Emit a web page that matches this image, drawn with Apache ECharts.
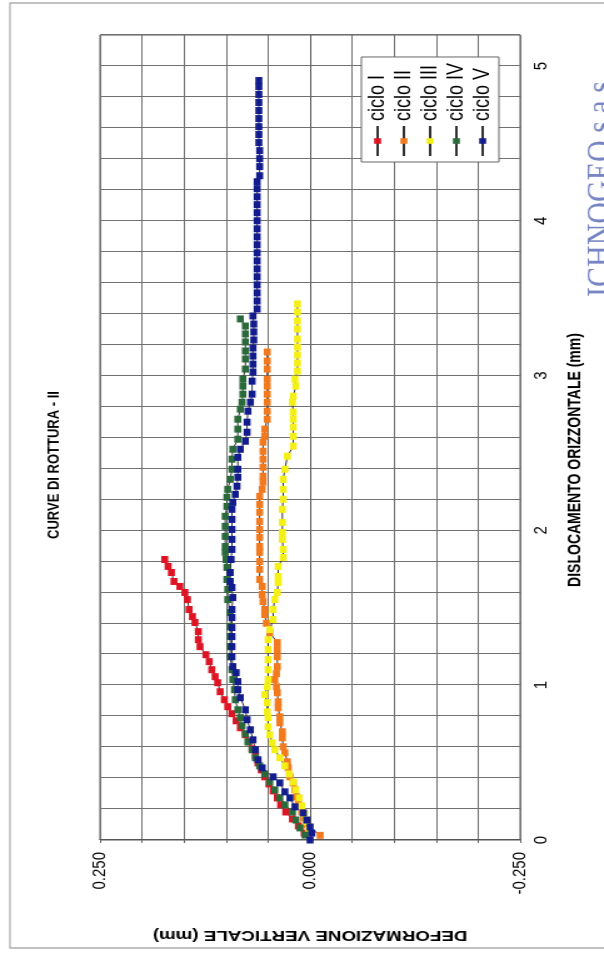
<!DOCTYPE html>
<html><head><meta charset="utf-8">
<script src="https://cdn.jsdelivr.net/npm/echarts@6/dist/echarts.min.js"></script>
<style>
html,body{margin:0;padding:0;background:#fff;overflow:hidden;width:604px;height:957px;}
#chart{position:absolute;left:0;top:0;width:957px;height:483px;transform-origin:0 0;transform:translate(0px,957px) rotate(-90deg) scale(1,1.2505);}
</style></head><body><div id="chart"></div>
<script>
// Dislocamento orizzontale (mm), Deformazione verticale (mm)
const seriesNames = ['ciclo I', 'ciclo II', 'ciclo III', 'ciclo IV', 'ciclo V'];
const cicloI = [[0.045,0.007],[0.091,0.014],[0.136,0.021],[0.181,0.029],[0.227,0.035],[0.272,0.039],[0.317,0.044],[0.362,0.049],[0.408,0.054],[0.453,0.058],[0.498,0.062],[0.544,0.065],[0.589,0.069],[0.634,0.073],[0.680,0.077],[0.725,0.083],[0.770,0.088],[0.816,0.093],[0.861,0.098],[0.906,0.102],[0.958,0.107],[1.016,0.110],[1.055,0.113],[1.100,0.117],[1.152,0.120],[1.197,0.124],[1.249,0.131],[1.294,0.133],[1.346,0.133],[1.405,0.137],[1.443,0.140],[1.489,0.144],[1.553,0.146],[1.599,0.149],[1.638,0.155],[1.670,0.162],[1.728,0.165],[1.767,0.169],[1.812,0.173]];
const cicloII = [[0.030,-0.012],[0.097,0.004],[0.142,0.008],[0.181,0.010],[0.239,0.014],[0.278,0.016],[0.324,0.018],[0.369,0.020],[0.408,0.024],[0.466,0.026],[0.505,0.027],[0.563,0.030],[0.602,0.032],[0.660,0.033],[0.699,0.033],[0.757,0.036],[0.796,0.036],[0.854,0.038],[0.893,0.038],[0.951,0.039],[0.990,0.040],[1.036,0.042],[1.075,0.040],[1.120,0.039],[1.184,0.039],[1.230,0.039],[1.275,0.039],[1.340,0.048],[1.400,0.052],[1.456,0.054],[1.489,0.054],[1.540,0.056],[1.586,0.057],[1.638,0.057],[1.683,0.060],[1.748,0.060],[1.799,0.060],[1.858,0.060],[1.896,0.060],[1.955,0.060],[2.006,0.060],[2.058,0.060],[2.117,0.060],[2.168,0.060],[2.220,0.060],[2.265,0.057],[2.311,0.056],[2.350,0.056],[2.408,0.056],[2.460,0.056],[2.511,0.056],[2.570,0.056],[2.608,0.054],[2.654,0.054],[2.718,0.051],[2.770,0.051],[2.828,0.051],[2.880,0.051],[2.932,0.051],[2.977,0.051],[3.042,0.051],[3.094,0.051],[3.152,0.051]];
const cicloIII = [[0.065,0.002],[0.117,0.005],[0.168,0.007],[0.220,0.010],[0.272,0.013],[0.324,0.017],[0.375,0.020],[0.427,0.025],[0.479,0.030],[0.531,0.036],[0.583,0.042],[0.628,0.045],[0.680,0.048],[0.731,0.050],[0.790,0.050],[0.828,0.051],[0.887,0.051],[0.939,0.054],[0.990,0.051],[1.036,0.050],[1.100,0.050],[1.165,0.050],[1.230,0.050],[1.294,0.050],[1.359,0.048],[1.424,0.044],[1.489,0.044],[1.553,0.042],[1.599,0.039],[1.663,0.038],[1.702,0.038],[1.767,0.038],[1.825,0.032],[1.877,0.032],[1.942,0.033],[1.987,0.033],[2.052,0.033],[2.136,0.033],[2.201,0.032],[2.265,0.032],[2.330,0.032],[2.395,0.030],[2.479,0.027],[2.544,0.020],[2.608,0.020],[2.667,0.020],[2.718,0.020],[2.764,0.020],[2.828,0.021],[2.867,0.020],[2.932,0.017],[2.977,0.018],[3.029,0.015],[3.081,0.015],[3.133,0.015],[3.184,0.015],[3.236,0.015],[3.301,0.015],[3.353,0.015],[3.411,0.015],[3.463,0.015]];
const cicloIV = [[0.032,0.006],[0.078,0.012],[0.129,0.017],[0.181,0.021],[0.227,0.030],[0.272,0.036],[0.324,0.042],[0.375,0.048],[0.427,0.054],[0.479,0.060],[0.531,0.065],[0.583,0.069],[0.634,0.074],[0.686,0.077],[0.738,0.081],[0.790,0.083],[0.841,0.086],[0.906,0.089],[0.971,0.090],[1.036,0.092],[1.100,0.093],[1.184,0.095],[1.249,0.095],[1.314,0.095],[1.379,0.095],[1.469,0.095],[1.553,0.098],[1.618,0.098],[1.683,0.099],[1.761,0.099],[1.812,0.100],[1.858,0.101],[1.896,0.101],[1.961,0.101],[2.026,0.101],[2.091,0.101],[2.155,0.099],[2.214,0.099],[2.265,0.098],[2.330,0.095],[2.395,0.093],[2.460,0.093],[2.524,0.092],[2.589,0.086],[2.654,0.086],[2.718,0.086],[2.783,0.083],[2.828,0.081],[2.880,0.080],[2.932,0.080],[2.977,0.080],[3.042,0.077],[3.107,0.077],[3.159,0.077],[3.217,0.077],[3.269,0.077],[3.320,0.077],[3.366,0.083]];
const cicloV = [[0.000,0.000],[0.045,-0.002],[0.084,0.000],[0.129,0.004],[0.175,0.008],[0.214,0.018],[0.272,0.024],[0.311,0.030],[0.369,0.036],[0.408,0.044],[0.466,0.057],[0.518,0.062],[0.583,0.065],[0.647,0.068],[0.712,0.071],[0.777,0.075],[0.841,0.077],[0.919,0.083],[0.971,0.086],[1.023,0.086],[1.081,0.088],[1.120,0.092],[1.184,0.093],[1.249,0.093],[1.314,0.093],[1.372,0.093],[1.437,0.093],[1.489,0.093],[1.566,0.092],[1.631,0.093],[1.670,0.095],[1.728,0.095],[1.812,0.094],[1.877,0.093],[1.942,0.093],[2.006,0.093],[2.071,0.093],[2.136,0.093],[2.181,0.092],[2.233,0.089],[2.285,0.087],[2.343,0.086],[2.395,0.086],[2.472,0.086],[2.524,0.083],[2.576,0.077],[2.634,0.075],[2.699,0.075],[2.770,0.074],[2.828,0.071],[2.880,0.069],[2.964,0.069],[3.023,0.068],[3.074,0.068],[3.126,0.068],[3.178,0.068],[3.230,0.067],[3.282,0.067],[3.333,0.067],[3.385,0.068],[3.430,0.063],[3.482,0.063],[3.534,0.063],[3.586,0.063],[3.638,0.063],[3.689,0.063],[3.741,0.063],[3.793,0.063],[3.845,0.063],[3.896,0.063],[3.948,0.063],[4.000,0.063],[4.052,0.063],[4.104,0.063],[4.155,0.063],[4.207,0.063],[4.252,0.063],[4.291,0.060],[4.350,0.060],[4.401,0.060],[4.453,0.060],[4.505,0.061],[4.557,0.061],[4.608,0.061],[4.660,0.061],[4.712,0.061],[4.764,0.061],[4.816,0.061],[4.867,0.061],[4.906,0.061]];
const allData = [cicloI, cicloII, cicloIII, cicloIV, cicloV];
const xLabelValues = [0, 1, 2, 3, 4, 5];
const yLabelValues = [-0.25, 0, 0.25];

const colors = ['#dc1424', '#f27a1e', '#f4f016', '#2a6a3a', '#121c8c'];
const FONT = '"Liberation Sans", Arial, sans-serif';

const chart = echarts.init(document.getElementById('chart'), null, {renderer: 'canvas'});
const near = (v, arr) => arr.some(a => Math.abs(a - v) < 1e-6);

chart.setOption({
  animation: false,
  backgroundColor: '#fff',
  textStyle: {fontFamily: FONT, color: '#000'},
  title: {
    text: 'CURVE DI ROTTURA - II',
    left: 487, top: 32, textAlign: 'center',
    textStyle: {fontFamily: FONT, fontSize: 13, fontWeight: 'bold', color: '#000'}
  },
  graphic: [
    {type: 'rect', silent: true, z: -1, shape: {x: 9, y: 8, width: 945, height: 520},
     style: {fill: 'none', stroke: '#9a9a9a', lineWidth: 1.2}},
    {type: 'text', silent: true, x: 660, y: 466,
     style: {text: 'ICHNOGEO s.a.s', fill: '#5566b4', opacity: 0.8,
             font: '30px "Liberation Serif", serif', verticalAlign: 'top', align: 'left'}}
  ],
  legend: {
    orient: 'vertical', left: 795, top: 289,
    padding: [4, 6, 4, 5], itemGap: 3, itemWidth: 30, itemHeight: 7,
    backgroundColor: '#fff', borderColor: '#666', borderWidth: 1,
    textStyle: {fontFamily: FONT, fontSize: 18, lineHeight: 18, color: '#000'},
    data: seriesNames
  },
  grid: {left: 117, right: 35, top: 80, bottom: 67, show: true, borderColor: '#555', borderWidth: 1, backgroundColor: '#fff'},
  xAxis: {
    type: 'value', min: 0, max: 5.2, interval: 0.2,
    name: 'DISLOCAMENTO ORIZZONTALE (mm)', nameLocation: 'middle', nameGap: 37,
    nameTextStyle: {fontFamily: FONT, fontSize: 14, fontWeight: 'bold', color: '#000', padding: [0, 45, 0, 0]},
    axisLine: {show: true, lineStyle: {color: '#555'}},
    axisTick: {show: true, length: 3, lineStyle: {color: '#666'}},
    axisLabel: {margin: 9, fontSize: 15, color: '#000', fontFamily: FONT,
      formatter: v => near(v, xLabelValues) ? String(Math.round(v)) : ''},
    splitLine: {show: true, lineStyle: {color: '#707070', width: 1}}
  },
  yAxis: {
    type: 'value', min: -0.25, max: 0.25, interval: 0.05,
    name: 'DEFORMAZIONE VERTICALE (mm)', nameLocation: 'middle', nameGap: 88, nameRotate: 90,
    nameTextStyle: {fontFamily: FONT, fontSize: 15, fontWeight: 'bold', color: '#000'},
    axisLine: {show: true, lineStyle: {color: '#555'}},
    axisTick: {show: true, length: 3, lineStyle: {color: '#666'}},
    axisLabel: {margin: 12, fontSize: 15, color: '#000', fontFamily: FONT,
      formatter: v => near(v, yLabelValues) ? v.toFixed(3) : ''},
    splitLine: {show: true, lineStyle: {color: '#707070', width: 1}}
  },
  series: seriesNames.map((n, i) => ({
    name: n, type: 'line', data: allData[i],
    symbol: 'rect', symbolSize: [7, 5.6], showAllSymbol: true,
    lineStyle: {color: '#333', width: 1},
    itemStyle: {color: colors[i]},
    emphasis: {disabled: true}
  }))
});
</script></body></html>
